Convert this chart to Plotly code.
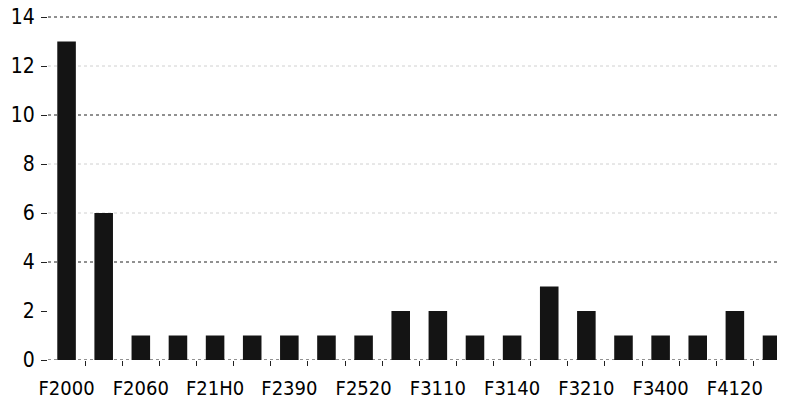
import plotly.graph_objects as go

# bar heights, left to right
counts = [13, 6, 1, 1, 1, 1, 1, 1, 1, 2, 2, 1, 1, 3, 2, 1, 1, 1, 2, 1]
# only every other bar carries a label on the original chart
tick_labels = ["F2000", "F2060", "F21H0", "F2390", "F2520",
               "F3110", "F3140", "F3210", "F3400", "F4120"]
y_ticks = [0, 2, 4, 6, 8, 10, 12, 14]

positions = list(range(len(counts)))
font = dict(family="DejaVu Sans Condensed, Liberation Sans, Arial",
            size=20, color="#000000")

fig = go.Figure(go.Bar(x=positions, y=counts, width=0.5,
                       marker=dict(color="#141414", line=dict(width=0))))

# strong dotted gridlines where they survive in the scan, faint ones elsewhere
for yv in [0, 4, 10, 14]:
    fig.add_hline(y=yv, line=dict(color="#222222", width=1, dash="dot"), layer="below")
for yv in [6, 8, 12]:
    fig.add_hline(y=yv, line=dict(color="#d0d0d0", width=1, dash="dot"), layer="below")

# the page body adds an 8px offset, so the figure is 8px smaller on each side
fig.update_layout(
    width=777, height=395,
    margin=dict(l=40, r=0, t=2, b=43),
    paper_bgcolor="white", plot_bgcolor="white",
    font=font, showlegend=False,
    xaxis=dict(range=[-0.5, 19.35], tickmode="array",
               tickvals=positions[::2], ticktext=tick_labels,
               tickfont=dict(size=20), automargin=False,
               showgrid=False, zeroline=False, showline=False,
               ticks="", ticklabelstandoff=14,
               minor=dict(tickmode="array",
                          tickvals=[p + 0.5 for p in positions],
                          ticks="outside", ticklen=5, tickcolor="#222222")),
    yaxis=dict(range=[0, 14.286], tickmode="array", tickvals=y_ticks,
               tickfont=dict(size=21), automargin=False,
               ticklabeloverflow="allow", ticklabelstandoff=2,
               showgrid=False, zeroline=False, showline=False,
               ticks="outside", ticklen=6, tickcolor="#222222"),
)

fig.write_html("out.html")
